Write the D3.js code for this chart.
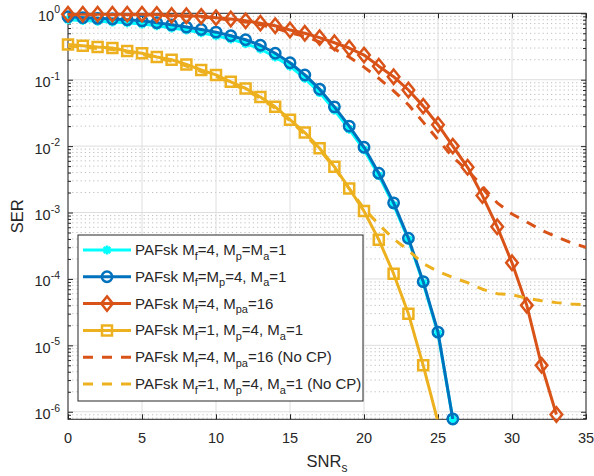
<!DOCTYPE html>
<html>
<head>
<meta charset="utf-8">
<script src="https://cdn.jsdelivr.net/npm/d3@7"></script>
<style>
  body { margin: 0; background: #fff; }
  text { font-family: "Liberation Sans", Arial, sans-serif; fill: #262626; }
</style>
</head>
<body>
<svg id="chart" width="594" height="476"></svg>
<script>
// SNR grid (dB) shared by all curves
const snr = [0,1,2,3,4,5,6,7,8,9,10,11,12,13,14,15,16,17,18,19,20,21,22,23,24,25,26,27,28,29,30,31,32,33,34,35];

// Symbol error rate per configuration (index = SNR point)
const serF4P1A1 = [0.80,0.78,0.76,0.74,0.72,0.69,0.65,0.60,0.56,0.51,0.46,0.41,0.35,0.29,0.22,0.16,0.105,0.064,0.035,0.018,0.0088,3.6e-3,1.3e-3,3.9e-4,8.7e-5,1.5e-5,7.8e-7];
const serF4P4A1 = [0.89,0.86,0.84,0.82,0.80,0.77,0.72,0.67,0.62,0.57,0.52,0.46,0.40,0.33,0.25,0.18,0.118,0.072,0.039,0.020,0.0096,3.9e-3,1.4e-3,4.1e-4,9.1e-5,1.58e-5,7.8e-7];
const serF4Pa16 = [0.97,0.97,0.97,0.97,0.97,0.97,0.96,0.93,0.92,0.90,0.86,0.82,0.77,0.71,0.65,0.56,0.50,0.43,0.36,0.30,0.235,0.16,0.111,0.070,0.040,0.021,0.010,4.8e-3,1.8e-3,6.1e-4,1.75e-4,4.0e-5,5.0e-6,9.1e-7];
const serF1P4A1 = [0.34,0.325,0.31,0.30,0.27,0.25,0.22,0.20,0.17,0.14,0.118,0.093,0.074,0.055,0.039,0.025,0.016,0.0093,4.9e-3,2.3e-3,1.05e-3,3.9e-4,1.2e-4,3.0e-5,5.0e-6,7.0e-7];
const serF4Pa16NoCP = [0.95,0.95,0.95,0.95,0.95,0.95,0.94,0.91,0.90,0.88,0.84,0.79,0.74,0.67,0.60,0.51,0.45,0.37,0.29,0.22,0.155,0.105,0.068,0.042,0.023,0.0125,6.8e-3,4.3e-3,2.5e-3,1.4e-3,9.5e-4,7.2e-4,5.4e-4,4.3e-4,3.5e-4,3.0e-4];
const serF1P4A1NoCP = [0.32,0.31,0.295,0.285,0.26,0.24,0.21,0.19,0.16,0.133,0.112,0.088,0.070,0.052,0.037,0.024,0.015,0.0088,4.7e-3,2.3e-3,1.15e-3,6.6e-4,4.0e-4,2.7e-4,1.7e-4,1.3e-4,1.05e-4,8.8e-5,7.0e-5,6.0e-5,5.8e-5,5.1e-5,4.7e-5,4.4e-5,4.2e-5,4.1e-5];

const legendLabels = [
  "PAFsk M_{f}=4, M_{p}=M_{a}=1",
  "PAFsk M_{f}=M_{p}=4, M_{a}=1",
  "PAFsk M_{f}=4, M_{pa}=16",
  "PAFsk M_{f}=1, M_{p}=4, M_{a}=1",
  "PAFsk M_{f}=4, M_{pa}=16 (No CP)",
  "PAFsk M_{f}=1, M_{p}=4, M_{a}=1 (No CP)"
];

const xTicks = [0,5,10,15,20,25,30,35];
const yDecades = [1e-6,1e-5,1e-4,1e-3,1e-2,1e-1,1];
const xLabel = "SNR_{s}";
const yLabel = "SER";

const series = [
  { values: serF4P1A1,     color: "#00FFFF", marker: "asterisk", dashed: false, label: legendLabels[0] },
  { values: serF4P4A1,     color: "#0072BD", marker: "circle",   dashed: false, label: legendLabels[1] },
  { values: serF4Pa16,     color: "#D95319", marker: "diamond",  dashed: false, label: legendLabels[2] },
  { values: serF1P4A1,     color: "#EDB120", marker: "square",   dashed: false, label: legendLabels[3] },
  { values: serF4Pa16NoCP, color: "#D95319", marker: null,       dashed: true,  label: legendLabels[4] },
  { values: serF1P4A1NoCP, color: "#EDB120", marker: null,       dashed: true,  label: legendLabels[5] }
];

// ---- layout ----
const plot = { left: 68, right: 586, top: 13.3, bottom: 419.3 };
const yMin = 7.7e-7, yMax = 1;
const axisColor = "#262626";
const lineW = 3;
const markerW = 2.5;

const svg = d3.select("#chart");
const x = d3.scaleLinear().domain([0, 35]).range([plot.left, plot.right]);
const y = d3.scaleLog().domain([yMin, yMax]).range([plot.bottom, plot.top]);

svg.append("defs").append("clipPath").attr("id", "plotClip")
  .append("rect")
  .attr("x", plot.left).attr("y", plot.top)
  .attr("width", plot.right - plot.left).attr("height", plot.bottom - plot.top);

// minor values of the log axis (2..9 × 10^k) inside the domain
const minorVals = [];
for (let k = -7; k <= 0; k++) {
  for (let m = 2; m <= 9; m++) {
    const v = m * Math.pow(10, k);
    if (v >= yMin && v < yMax) minorVals.push(v);
  }
}

const grid = svg.append("g");
// minor horizontal grid (dotted)
grid.selectAll("line.minor").data(minorVals).join("line")
  .attr("x1", plot.left).attr("x2", plot.right)
  .attr("y1", d => y(d)).attr("y2", d => y(d))
  .attr("stroke", "#bdbdbd").attr("stroke-width", 1)
  .attr("stroke-dasharray", "1.2,3");
// major grid
grid.selectAll("line.hmaj").data(yDecades).join("line")
  .attr("x1", plot.left).attr("x2", plot.right)
  .attr("y1", d => y(d)).attr("y2", d => y(d))
  .attr("stroke", "#dedede").attr("stroke-width", 1);
grid.selectAll("line.vmaj").data(xTicks).join("line")
  .attr("x1", d => x(d)).attr("x2", d => x(d))
  .attr("y1", plot.top).attr("y2", plot.bottom)
  .attr("stroke", "#dedede").attr("stroke-width", 1);

// ---- axes (box with inward ticks) ----
const axes = svg.append("g");
const bottomAxis = d3.axisBottom(x).tickValues(xTicks).tickSize(-5).tickFormat("");
const topAxis = d3.axisTop(x).tickValues(xTicks).tickSize(-5).tickFormat("");
const leftMajor = d3.axisLeft(y).tickValues(yDecades).tickSize(-5).tickFormat("");
const rightMajor = d3.axisRight(y).tickValues(yDecades).tickSize(-5).tickFormat("");
const leftMinor = d3.axisLeft(y).tickValues(minorVals).tickSize(-3).tickFormat("");
const rightMinor = d3.axisRight(y).tickValues(minorVals).tickSize(-3).tickFormat("");

function styleAxis(g) {
  g.selectAll("path.domain").attr("stroke", axisColor).attr("stroke-width", 1);
  g.selectAll(".tick line").attr("stroke", axisColor).attr("stroke-width", 1);
}
axes.append("g").attr("transform", `translate(0,${plot.bottom})`).call(bottomAxis).call(styleAxis);
axes.append("g").attr("transform", `translate(0,${plot.top})`).call(topAxis).call(styleAxis);
axes.append("g").attr("transform", `translate(${plot.left},0)`).call(leftMajor).call(styleAxis);
axes.append("g").attr("transform", `translate(${plot.right},0)`).call(rightMajor).call(styleAxis);
axes.append("g").attr("transform", `translate(${plot.left},0)`).call(leftMinor).call(styleAxis);
axes.append("g").attr("transform", `translate(${plot.right},0)`).call(rightMinor).call(styleAxis);
axes.selectAll("path.domain").attr("d", null);
axes.append("rect")
  .attr("x", plot.left).attr("y", plot.top)
  .attr("width", plot.right - plot.left).attr("height", plot.bottom - plot.top)
  .attr("fill", "none").attr("stroke", axisColor).attr("stroke-width", 1);

// x tick labels
svg.append("g").selectAll("text").data(xTicks).join("text")
  .attr("x", d => x(d)).attr("y", 443)
  .attr("text-anchor", "middle").attr("font-size", 14.5)
  .text(d => d);

// y tick labels as 10^k
const yLab = svg.append("g").selectAll("text").data(yDecades).join("text")
  .attr("x", 60).attr("y", d => y(d) + 7.5)
  .attr("text-anchor", "end").attr("font-size", 14.5);
yLab.append("tspan").text("10");
yLab.append("tspan").attr("font-size", 10.5).attr("dy", -7.5)
  .text(d => String(Math.round(Math.log10(d))));

// text with _{...} subscripts rendered as tspans
function richText(sel, str, baseSize, subSize, subShift) {
  const parts = str.split(/(_\{[^}]*\})/).filter(p => p.length);
  let lowered = false;
  parts.forEach(p => {
    const sub = p.startsWith("_{");
    const t = sel.append("tspan").text(sub ? p.slice(2, -1) : p)
      .attr("font-size", sub ? subSize : baseSize);
    if (sub && !lowered) { t.attr("dy", subShift); lowered = true; }
    else if (!sub && lowered) { t.attr("dy", -subShift); lowered = false; }
  });
}

// axis titles
const xt = svg.append("text").attr("x", (plot.left + plot.right) / 2).attr("y", 467)
  .attr("text-anchor", "middle").attr("font-size", 16.5);
richText(xt, xLabel, 16.5, 12, 5);
svg.append("text")
  .attr("transform", `translate(22.5,${(plot.top + plot.bottom) / 2}) rotate(-90)`)
  .attr("text-anchor", "middle").attr("font-size", 16.5)
  .text(yLabel);

// ---- markers ----
function markerPath(type) {
  const p = d3.path();
  if (type === "circle") { p.moveTo(5.2, 0); p.arc(0, 0, 5.2, 0, 2 * Math.PI); }
  else if (type === "diamond") { p.moveTo(0, -7.2); p.lineTo(5.8, 0); p.lineTo(0, 7.2); p.lineTo(-5.8, 0); p.closePath(); }
  else if (type === "square") { p.rect(-5, -5, 10, 10); }
  else if (type === "asterisk") {
    const r = 4.5, d = r * 0.7071;
    p.moveTo(-r, 0); p.lineTo(r, 0);
    p.moveTo(0, -r); p.lineTo(0, r);
    p.moveTo(-d, -d); p.lineTo(d, d);
    p.moveTo(-d, d); p.lineTo(d, -d);
  }
  return p.toString();
}

// ---- curves ----
const curves = svg.append("g");
series.forEach(s => {
  const pts = s.values.map((v, i) => ({ x: snr[i], v }));
  const line = d3.line().x(d => x(d.x)).y(d => y(d.v));
  curves.append("path").datum(pts)
    .attr("clip-path", "url(#plotClip)")
    .attr("d", line)
    .attr("fill", "none").attr("stroke", s.color).attr("stroke-width", lineW)
    .attr("stroke-linejoin", "round")
    .attr("stroke-dasharray", s.dashed ? "10,9" : null);
  if (s.marker) {
    curves.append("g").selectAll("path").data(pts.filter(d => d.v >= yMin && d.v <= yMax * 1.0001)).join("path")
      .attr("transform", d => `translate(${x(d.x)},${y(d.v)})`)
      .attr("d", markerPath(s.marker))
      .attr("fill", "none").attr("stroke", s.color).attr("stroke-width", markerW);
  }
});

// ---- legend ----
const lg = { x: 78, y: 235, w: 285, h: 166, row0: 250, rowStep: 26.8 };
const legend = svg.append("g");
legend.append("rect")
  .attr("x", lg.x).attr("y", lg.y).attr("width", lg.w).attr("height", lg.h)
  .attr("fill", "#fff").attr("stroke", axisColor).attr("stroke-width", 1);
series.forEach((s, i) => {
  const cy = lg.row0 + i * lg.rowStep;
  legend.append("line")
    .attr("x1", 83).attr("x2", 131).attr("y1", cy).attr("y2", cy)
    .attr("stroke", s.color).attr("stroke-width", lineW)
    .attr("stroke-dasharray", s.dashed ? "10,9" : null);
  if (s.marker) {
    legend.append("path")
      .attr("transform", `translate(107,${cy})`)
      .attr("d", markerPath(s.marker))
      .attr("fill", "none").attr("stroke", s.color).attr("stroke-width", markerW);
  }
  const t = legend.append("text").attr("x", 135).attr("y", cy + 5).attr("font-size", 15);
  richText(t, s.label, 15, 11, 4.5);
});
</script>
</body>
</html>
